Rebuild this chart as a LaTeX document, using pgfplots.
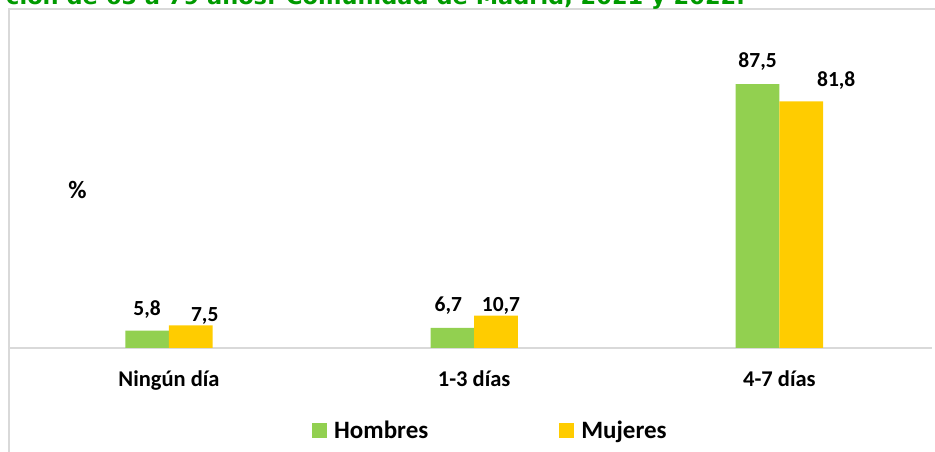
\documentclass[border=0pt]{standalone}
\usepackage{pgfplots}
\usepackage{pgfplotstable}
\pgfplotsset{compat=1.18}
\usepackage{fontspec}
\setmainfont{Carlito}
\newfontfamily\titlefont{DejaVu Sans}
\definecolor{hgreen}{HTML}{92D050}
\definecolor{myellow}{HTML}{FFCC00}
\definecolor{linegray}{HTML}{D9D9D9}
\definecolor{titlegreen}{HTML}{009A00}

\pgfplotstableread{
x y lab dx dy
0 5.8 5,8 0 15.5
1 6.7 6,7 -4 16
2 87.5 87,5 0 17
}\hombres
\pgfplotstableread{
x y lab dx dy
0 7.5 7,5 14 3.5
1 10.7 10,7 5 4
2 81.8 81,8 35 15
}\mujeres

\begin{document}
\begin{tikzpicture}
\useasboundingbox (0pt,0pt) rectangle (935pt,452pt);
\draw[linegray, line width=1.5pt] (9pt,-5pt) -- (9pt,443pt) -- (945pt,443pt);
\node[anchor=base east, font=\titlefont\bfseries\fontsize{22.5}{27}\selectfont, text=titlegreen, inner sep=0pt] at (745pt,447pt) {ción de 65 a 79 años. Comunidad de Madrid, 2021 y 2022.};
\node[anchor=base, inner sep=0pt, font=\bfseries\fontsize{25}{30}\selectfont] at (77.5pt,253pt) {\%};
\begin{axis}[
  at={(9pt,104pt)}, anchor=south west, scale only axis,
  width=923pt, height=328pt,
  ymin=0, ymax=108.8, xmin=-0.524, xmax=2.5,
  ybar=0pt, bar width=0.143,
  axis y line=none, axis x line=bottom,
  x axis line style={-, draw=linegray, line width=1.75pt},
  xtick={0,1,2}, xticklabels={Ningún día,1-3 días,4-7 días},
  major tick length=0pt,
  xticklabel style={font=\bfseries\fontsize{22.5}{27}\selectfont, anchor=base, yshift=-38.7pt},
  clip=false,
  every axis plot post/.append style={legend image code/.code={\fill[#1] (0pt,-7.5pt) rectangle (15pt,7.5pt); \path (0pt,18.5pt);}},
  legend columns=2,
  legend style={draw=none, fill=none, inner sep=0pt, nodes={inner sep=0pt},
    font=\bfseries\fontsize{25}{30}\selectfont,
    /tikz/every odd column/.append style={column sep=7pt},
    /tikz/every even column/.append style={column sep=131pt},
    at={(axis description cs:0.3283,-0.281)}, anchor=south west},
]
\addplot[fill=hgreen, draw=none,
  nodes near coords, point meta=explicit symbolic,
  visualization depends on={\thisrow{dx}\as\dx},
  visualization depends on={\thisrow{dy}\as\dy},
  every node near coord/.append style={font=\bfseries\fontsize{21.5}{26}\selectfont, text=black, anchor=base, inner sep=0pt, xshift=\dx pt, yshift=\dy pt}]
  table[x=x, y=y, meta=lab] {\hombres};
\addplot[fill=myellow, draw=none,
  nodes near coords, point meta=explicit symbolic,
  visualization depends on={\thisrow{dx}\as\dx},
  visualization depends on={\thisrow{dy}\as\dy},
  every node near coord/.append style={font=\bfseries\fontsize{21.5}{26}\selectfont, text=black, anchor=base, inner sep=0pt, xshift=\dx pt, yshift=\dy pt}]
  table[x=x, y=y, meta=lab] {\mujeres};
\legend{Hombres, Mujeres}
\end{axis}
\end{tikzpicture}
\end{document}
